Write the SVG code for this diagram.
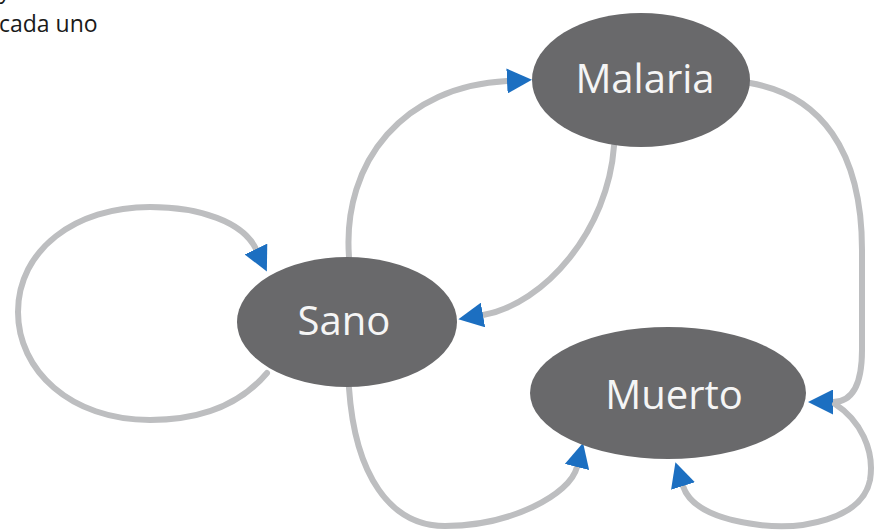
<svg xmlns="http://www.w3.org/2000/svg" width="875" height="531" viewBox="0 0 875 531">
<style>
  .node { fill: #69696b; }
  .label { font-family: "Open Sans", "Noto Sans", sans-serif; font-size: 40px; fill: #f5f5f5; text-anchor: middle; }
  .edge { fill: none; stroke: #bdbec0; stroke-width: 6; stroke-linecap: round; }
  .caption { font-family: "Open Sans", "Noto Sans", sans-serif; font-size: 23px; fill: #1a1a1a; }
</style>
<defs>
  <marker id="arrow" viewBox="0 0 25 25" markerWidth="25" markerHeight="25" markerUnits="userSpaceOnUse" refX="0" refY="12.5" orient="auto">
    <path d="M0,0 L25,12.5 L0,25 z" fill="#1c6fc1"/>
  </marker>
</defs>
<rect width="875" height="531" fill="#ffffff"/>
<text class="caption" x="-1" y="-2">y</text>
<text class="caption" x="-1" y="32">cada uno</text>
<g id="connectors">
  <path id="e-sano-sano" class="edge" marker-end="url(#arrow)" d="M267,373 C240,405 200,420 150,420 C70,420 18,370 18,312 C18,250 75,207 150,207 C200,207 243,222 256,249"/>
  <path id="e-sano-malaria" class="edge" marker-end="url(#arrow)" d="M349,257 C342,160 405,86 507,81"/>
  <path id="e-malaria-sano" class="edge" marker-end="url(#arrow)" d="M614,146 C608,230 545,304 483,315"/>
  <path id="e-malaria-muerto" class="edge" marker-end="url(#arrow)" d="M750,83 C820,95 862,150 862,250 L862,350 C862,385 852,402 833,402"/>
  <path id="e-sano-muerto" class="edge" marker-end="url(#arrow)" d="M349,388 C355,475 390,526 445,526 C510,526 570,495 577,467"/>
  <path id="e-muerto-muerto" class="edge" marker-end="url(#arrow)" d="M835,404 C860,420 875,450 870,480 C862,520 800,530 760,525 C720,520 690,508 683,486"/>
</g>
<g id="node-malaria">
  <ellipse class="node" cx="641" cy="80" rx="109" ry="67"/>
  <text class="label" x="645" y="93">Malaria</text>
</g>
<g id="node-sano">
  <ellipse class="node" cx="347" cy="322" rx="110" ry="65"/>
  <text class="label" x="344" y="335">Sano</text>
</g>
<g id="node-muerto">
  <ellipse class="node" cx="668" cy="393" rx="138" ry="66"/>
  <text class="label" x="674" y="409">Muerto</text>
</g>
</svg>
